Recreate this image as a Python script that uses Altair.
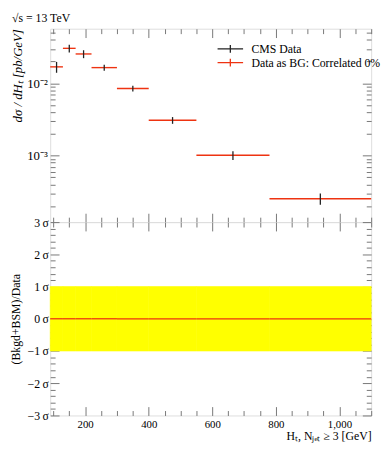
import altair as alt
import pandas as pd

# ---- data ----
bin_lo = [90, 130, 170, 220, 300, 400, 550, 780]
bin_hi = [130, 170, 220, 300, 400, 550, 780, 1100]
bin_mid = [110, 150, 195, 260, 350, 475, 665, 940]
xsec = [0.0169, 0.0305, 0.0255, 0.0165, 0.00847, 0.00308, 0.00101, 0.000253]
xsec_err = [0.0029, 0.0037, 0.0032, 0.0016, 0.00077, 0.00033, 0.00014, 0.000045]
ratio_sigma = [0, 0, 0, 0, 0, 0, 0, 0]
band_lo = [-1, -1, -1, -1, -1, -1, -1, -1]
band_hi = [1, 1, 1, 1, 1, 1, 1, 1]

series = ["CMS Data", "Data as BG: Correlated 0%"]
series_colors = ["#222222", "#EE3311"]

x_domain = [90, 1100]
top_domain = [1.2e-4, 0.057]
ratio_domain = [-3, 3]

x_major = [200, 400, 600, 800, 1000]
x_minor = [100, 150, 250, 300, 350, 450, 500, 550, 650, 700, 750, 850, 900, 950, 1050, 1100]
top_major = [0.001, 0.01]
top_minor = [0.0002, 0.0003, 0.0004, 0.0005, 0.0006, 0.0007, 0.0008, 0.0009,
             0.002, 0.003, 0.004, 0.005, 0.006, 0.007, 0.008, 0.009,
             0.02, 0.03, 0.04, 0.05]
ratio_major = [-3, -2, -1, 0, 1, 2, 3]
ratio_minor = [-2.8, -2.6, -2.4, -2.2, -1.8, -1.6, -1.4, -1.2, -0.8, -0.6, -0.4, -0.2,
               0.2, 0.4, 0.6, 0.8, 1.2, 1.4, 1.6, 1.8, 2.2, 2.4, 2.6, 2.8]

FONT = "Liberation Serif"
GRAY = "#777777"
W, H = 327, 197
MAJ, MIN = 9, 5

df = pd.DataFrame({
    "lo": bin_lo, "hi": bin_hi, "mid": bin_mid,
    "y": xsec,
    "ylo": [v - e for v, e in zip(xsec, xsec_err)],
    "yhi": [v + e for v, e in zip(xsec, xsec_err)],
    "r": ratio_sigma, "blo": band_lo, "bhi": band_hi,
    "s_data": [series[0]] * 8, "s_bg": [series[1]] * 8,
})


def ax(orient, values, size, labels=False, title=None, **kw):
    return alt.Axis(orient=orient, values=values, tickSize=size, offset=-size,
                    labels=labels, domain=False, grid=False, tickColor=GRAY,
                    tickWidth=1, title=title, **kw)


xs_top = alt.Scale(domain=x_domain, nice=False, zero=False)
ys_top = alt.Scale(type="log", domain=top_domain, nice=False)
cscale = alt.Scale(domain=series, range=series_colors)
legend = alt.Legend(title=None, orient="none", legendX=176, legendY=13,
                    symbolType="M-2,0L2,0M0,-0.6L0,0.6", symbolSize=169,
                    symbolStrokeWidth=1.3, labelFont=FONT, labelFontSize=12,
                    labelOffset=14, rowPadding=0, padding=0, labelColor="#000000")

base = alt.Chart(df)

top_redh = base.mark_rule(strokeWidth=1.4).encode(
    x=alt.X("lo:Q", scale=xs_top, axis=ax("bottom", x_major, MAJ)),
    x2="hi:Q",
    y=alt.Y("y:Q", scale=ys_top,
            axis=ax("left", top_major, MAJ, labels=True,
                    labelExpr="datum.value < 0.005 ? '10⁻³' : '10⁻²'",
                    labelFont=FONT, labelFontSize=13, labelPadding=3,
                    title="dσ / dHₜ [pb/GeV]", titleFont=FONT, titleFontSize=13,
                    titleFontWeight="normal", titleFontStyle="italic",
                    titleAnchor="end", titlePadding=2)),
    color=alt.Color("s_bg:N", scale=cscale, legend=legend),
)
top_blackv = base.mark_rule(strokeWidth=1.3).encode(
    x=alt.X("mid:Q", scale=xs_top, axis=ax("bottom", x_minor, MIN)),
    y=alt.Y("ylo:Q", scale=ys_top, axis=ax("left", top_minor, MIN)),
    y2="yhi:Q",
    color=alt.Color("s_data:N", scale=cscale, legend=legend),
)
top_inv1 = base.mark_point(opacity=0).encode(
    x=alt.X("mid:Q", scale=xs_top, axis=ax("top", x_major, MAJ)),
    y=alt.Y("y:Q", scale=ys_top, axis=ax("right", top_major, MAJ)),
)
top_inv2 = base.mark_point(opacity=0).encode(
    x=alt.X("mid:Q", scale=xs_top, axis=ax("top", x_minor, MIN)),
    y=alt.Y("y:Q", scale=ys_top, axis=ax("right", top_minor, MIN)),
)

top = alt.layer(top_redh, top_blackv, top_inv1, top_inv2).resolve_axis(
    x="independent", y="independent"
).properties(
    width=W, height=H,
    title=alt.TitleParams("√s = 13 TeV", anchor="start", font=FONT, fontSize=12,
                          fontWeight="normal", offset=3),
)

ys_r = alt.Scale(domain=ratio_domain, nice=False, zero=False)
sigma_expr = "(datum.value < 0 ? '−' + (-datum.value) : '' + datum.value) + '\u2009σ'"

bot_band = base.mark_rect(color="#FFFF00", stroke="#FFFF00", strokeWidth=0.6).encode(
    x=alt.X("lo:Q", scale=xs_top,
            axis=ax("bottom", x_major, MAJ, labels=True, labelFont=FONT, labelFontSize=11,
                    labelPadding=3, title="Hₜ, Nⱼₑₜ ≥ 3 [GeV]", titleFont=FONT,
                    titleFontSize=12, titleFontWeight="normal", titleAnchor="end",
                    titlePadding=1)),
    x2="hi:Q",
    y=alt.Y("blo:Q", scale=ys_r,
            axis=ax("left", ratio_major, MAJ, labels=True, labelExpr=sigma_expr,
                    labelFont=FONT, labelFontSize=12, labelPadding=2,
                    title="(Bkgd+BSM)/Data", titleFont=FONT, titleFontSize=12,
                    titleFontWeight="normal", titlePadding=5)),
    y2="bhi:Q",
)
bot_red = base.mark_rule(color="#EE3311", strokeWidth=1.3).encode(
    x=alt.X("lo:Q", scale=xs_top, axis=ax("bottom", x_minor, MIN)),
    x2="hi:Q",
    y=alt.Y("r:Q", scale=ys_r, axis=ax("left", ratio_minor, MIN)),
)
bot_inv1 = base.mark_point(opacity=0).encode(
    x=alt.X("mid:Q", scale=xs_top, axis=ax("top", x_major, MAJ)),
    y=alt.Y("r:Q", scale=ys_r, axis=ax("right", ratio_major, MAJ)),
)
bot_inv2 = base.mark_point(opacity=0).encode(
    x=alt.X("mid:Q", scale=xs_top, axis=ax("top", x_minor, MIN)),
    y=alt.Y("r:Q", scale=ys_r, axis=ax("right", ratio_minor, MIN)),
)

bottom = alt.layer(bot_band, bot_red, bot_inv1, bot_inv2).resolve_axis(
    x="independent", y="independent"
).properties(width=W, height=H)

chart = alt.vconcat(top, bottom, spacing=0, bounds="flush").configure_view(
    stroke=GRAY, strokeWidth=1
).configure(padding={"left": 0, "top": 0, "right": 0, "bottom": 0}).configure_axis(
    labelColor="#000000", titleColor="#000000"
)

chart.save("out.html", embed_options={"renderer": "svg", "actions": False})
